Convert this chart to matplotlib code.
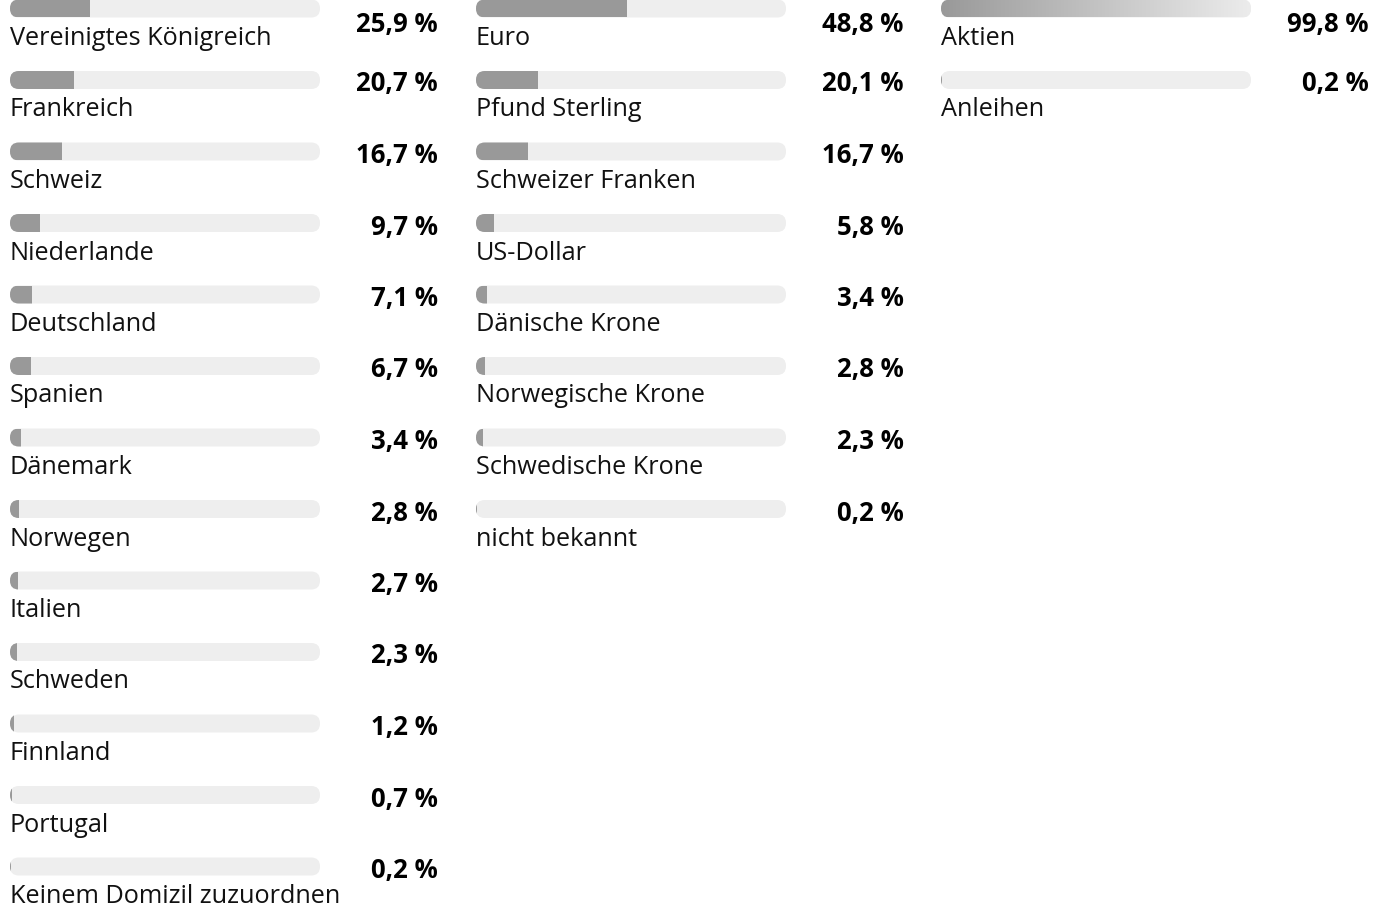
import numpy as np
import matplotlib
matplotlib.use("Agg")
import matplotlib.pyplot as plt
from matplotlib.patches import FancyBboxPatch, BoxStyle
from matplotlib.colors import LinearSegmentedColormap

# ================= DATA =================
countries = ["Vereinigtes Königreich", "Frankreich", "Schweiz", "Niederlande",
             "Deutschland", "Spanien", "Dänemark", "Norwegen", "Italien",
             "Schweden", "Finnland", "Portugal", "Keinem Domizil zuzuordnen"]
country_shares = [25.9, 20.7, 16.7, 9.7, 7.1, 6.7, 3.4, 2.8, 2.7, 2.3, 1.2, 0.7, 0.2]

currencies = ["Euro", "Pfund Sterling", "Schweizer Franken", "US-Dollar",
              "Dänische Krone", "Norwegische Krone", "Schwedische Krone", "nicht bekannt"]
currency_shares = [48.8, 20.1, 16.7, 5.8, 3.4, 2.8, 2.3, 0.2]

asset_classes = ["Aktien", "Anleihen"]
asset_shares = [99.8, 0.2]

# ================= SETTINGS =================
W, H = 1385, 906
col_left = [10, 476, 941]      # px, left edge of the bar track
track_px = 310                 # px, bar track width
pitch_px = 71.5                # px per row
first_px = 8.5                 # px, centre of first bar from top
bar_px = 18
track_color = "#eeeeee"
fill_color = "#999999"
gradient_labels = {"Aktien"}   # these bars are drawn with a fade

plt.rcParams["font.family"] = ["Open Sans", "DejaVu Sans"]

fig = plt.figure(figsize=(W / 100, H / 100), dpi=100)

x_per_px = 100 / track_px
y_per_px = 1 / pitch_px
h = bar_px * y_per_px
aspect = y_per_px / x_per_px
fade = LinearSegmentedColormap.from_list("fade", [fill_color, "#ececec"])


def draw_column(left_px, labels, values):
    ax = fig.add_axes([left_px / W, 0, track_px / W, 1])
    ax.set_xlim(0, 100)
    ylim = (-first_px / pitch_px, (H - first_px) / pitch_px)
    ax.axis("off")

    for i, (lab, val) in enumerate(zip(labels, values)):
        track = FancyBboxPatch((0, i - h / 2), 100, h,
                               boxstyle=BoxStyle.Round(pad=0, rounding_size=bar_px / 2 * x_per_px * 0.98),
                               mutation_aspect=aspect, fc=track_color, ec="none", zorder=1)
        ax.add_patch(track)
        if lab in gradient_labels:
            grad = np.linspace(0, 1, 256).reshape(1, -1)
            im = ax.imshow(grad, extent=(0, val, i + h / 2, i - h / 2), cmap=fade,
                           aspect="auto", zorder=2, interpolation="bilinear")
            im.set_clip_path(track)
        else:
            bars = ax.barh(i, val, height=h, left=0, color=fill_color, zorder=2)
            for b in bars:
                b.set_clip_path(track)

        ax.text(0, i + 36.5 * y_per_px, lab, ha="left", va="baseline",
                fontsize=18.2, color="#111111")
        # first row's value sits a bit lower in the original
        off = 24 if i == 0 else 11.5
        ax.text(138.0, i + off * y_per_px, f"{val:.1f} %".replace(".", ","),
                ha="right", va="baseline", fontsize=18.5, fontweight="bold",
                color="#000000", clip_on=False)

    ax.set_xlim(0, 100)
    ax.set_ylim(ylim[1], ylim[0])
    return ax


draw_column(col_left[0], countries, country_shares)
draw_column(col_left[1], currencies, currency_shares)
draw_column(col_left[2], asset_classes, asset_shares)

fig.savefig("out.png", dpi=100, facecolor="white")
